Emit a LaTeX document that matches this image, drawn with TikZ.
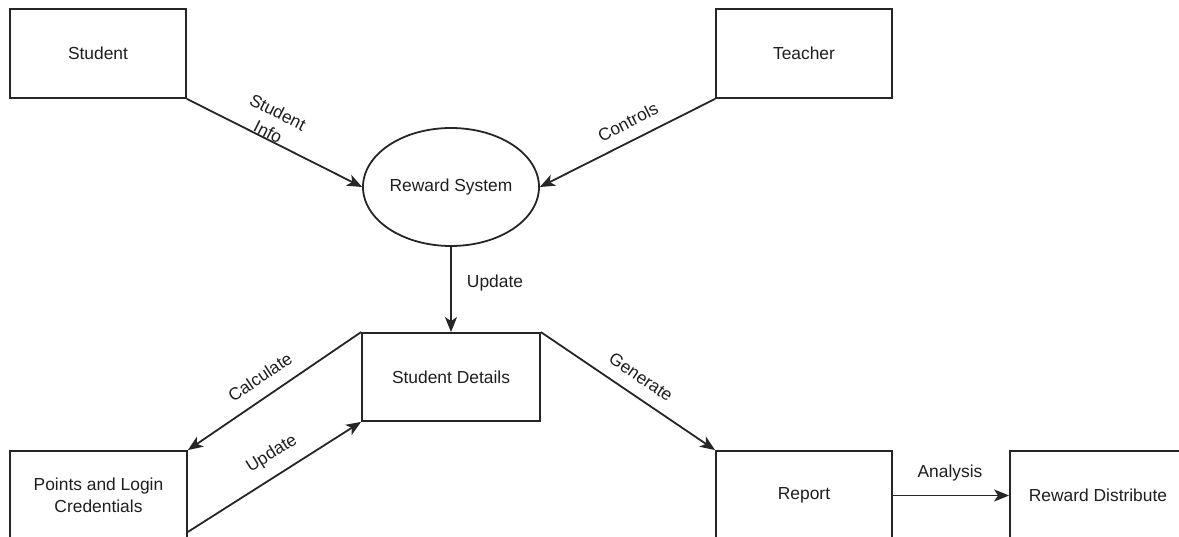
\documentclass[tikz,border=0pt]{standalone}
\usepackage{fontspec}
\setmainfont{Liberation Sans}
\usetikzlibrary{arrows.meta,shapes.geometric}
\begin{document}
\begin{tikzpicture}[x=1pt,y=-1pt,
  every node/.style={font=\fontsize{17.4}{22}\selectfont, text=black!88},
  ent/.style={draw=black!85, line width=1.8pt, minimum width=176pt, minimum height=89pt, inner sep=0pt, align=center},
  proc/.style={draw=black!85, line width=1.8pt, ellipse, minimum width=176pt, minimum height=118pt, inner sep=0pt},
  flow/.style={draw=black!85, line width=1.8pt, -{Stealth[length=15pt,width=12pt,inset=4pt]}},
  lbl/.style={inner sep=1pt, align=center}
]
\useasboundingbox (0,0) rectangle (1179,537);
\clip (0,0) rectangle (1179,537);
\fill[white] (0,0) rectangle (1179,537);

\node[ent] (st) at (98,53.5) {Student};
\node[ent] (te) at (804,53.5) {Teacher};
\node[proc] (rs) at (451,187) {Reward System};
\node[ent, minimum width=178pt, minimum height=88pt] (sd) at (451,377) {Student Details};
\node[ent, minimum width=177pt] (pl) at (98.5,495.5) {Points and Login\\Credentials};
\node[ent] (re) at (804,495.5) {Report};
\node[ent] (rd) at (1098,495.5) {Reward Distribute};

\draw[flow] (st.south east) -- (rs.west);
\draw[flow] (te.south west) -- (rs.east);
\draw[flow] (rs.south) -- (sd.north);
\draw[flow] (sd.north west) -- (pl.north east);
\draw[flow] ([yshift=9pt]pl.south east) -- (sd.south west);
\draw[flow] (sd.north east) -- (re.north west);
\draw[flow] (re.east) -- (rd.west);

\node[lbl, rotate=-26.7] (l1) at (273,122) {Student\\Info};
\node[lbl, rotate=26.7] (l2) at (628,122) {Controls};
\node[lbl] (l3) at (495,283) {Update};
\node[lbl, rotate=34] (l4) at (260,377) {Calculate};
\node[lbl, rotate=32] (l5) at (272,454) {Update};
\node[lbl, rotate=-34] (l6) at (641,377) {Generate};
\node[lbl] (l7) at (950,473) {Analysis};
\end{tikzpicture}
\end{document}
